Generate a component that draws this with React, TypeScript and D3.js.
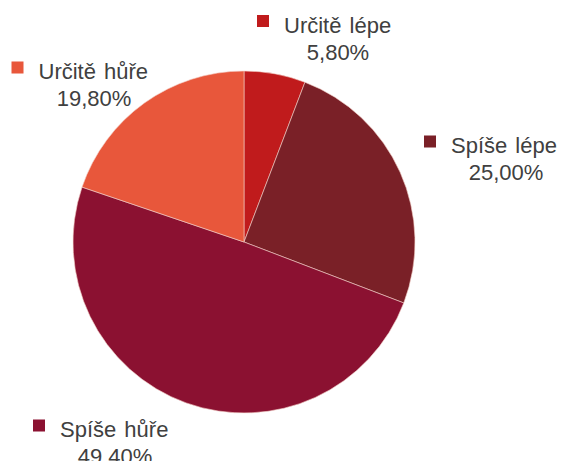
import React from "react";
import * as d3 from "d3";

const categories = ["Určitě lépe", "Spíše lépe", "Spíše hůře", "Určitě hůře"];
const values = [5.8, 25.0, 49.4, 19.8];
const valueLabels = ["5,80%", "25,00%", "49.40%", "19,80%"];
const colors = ["#C01B1C", "#7A2027", "#8B1131", "#E8573B"];

// label anchor positions (legend square left x, first line baseline y, value center x)
const labelPos = [
  { sx: 257, y: 32.5, cx: 338 },
  { sx: 424, y: 153, cx: 506 },
  { sx: 33, y: 437, cx: 115 },
  { sx: 11.5, y: 79, cx: 94 },
];

export default function App() {
  const W = 565, H = 461;
  const cx = 244, cy = 242, r = 171;
  const pie = d3.pie<number>().sort(null).value((d) => d)(values);
  const arc = d3.arc<d3.PieArcDatum<number>>().innerRadius(0).outerRadius(r);
  return (
    <svg width={W} height={H} style={{ position: "absolute", left: 0, top: 0 }}
      fontFamily="Liberation Sans, Arial, sans-serif">
      <rect width={W} height={H} fill="#fff" />
      <g transform={`translate(${cx},${cy})`}>
        {pie.map((p, i) => (
          <path key={i} d={arc(p) || ""} fill={colors[i]} stroke="#f4d0c8" strokeWidth={0.6} />
        ))}
      </g>
      {categories.map((c, i) => {
        const lp = labelPos[i];
        return (
          <g key={c}>
            <rect x={lp.sx} y={lp.y - 17.5} width={12} height={12} fill={colors[i]} />
            <text x={lp.sx + 27} y={lp.y} fontSize={22} fill="#404040" wordSpacing={2}>{c}</text>
            <text x={lp.cx} y={lp.y + 27} fontSize={22} fill="#404040" textAnchor="middle">{valueLabels[i]}</text>
          </g>
        );
      })}
    </svg>
  );
}
